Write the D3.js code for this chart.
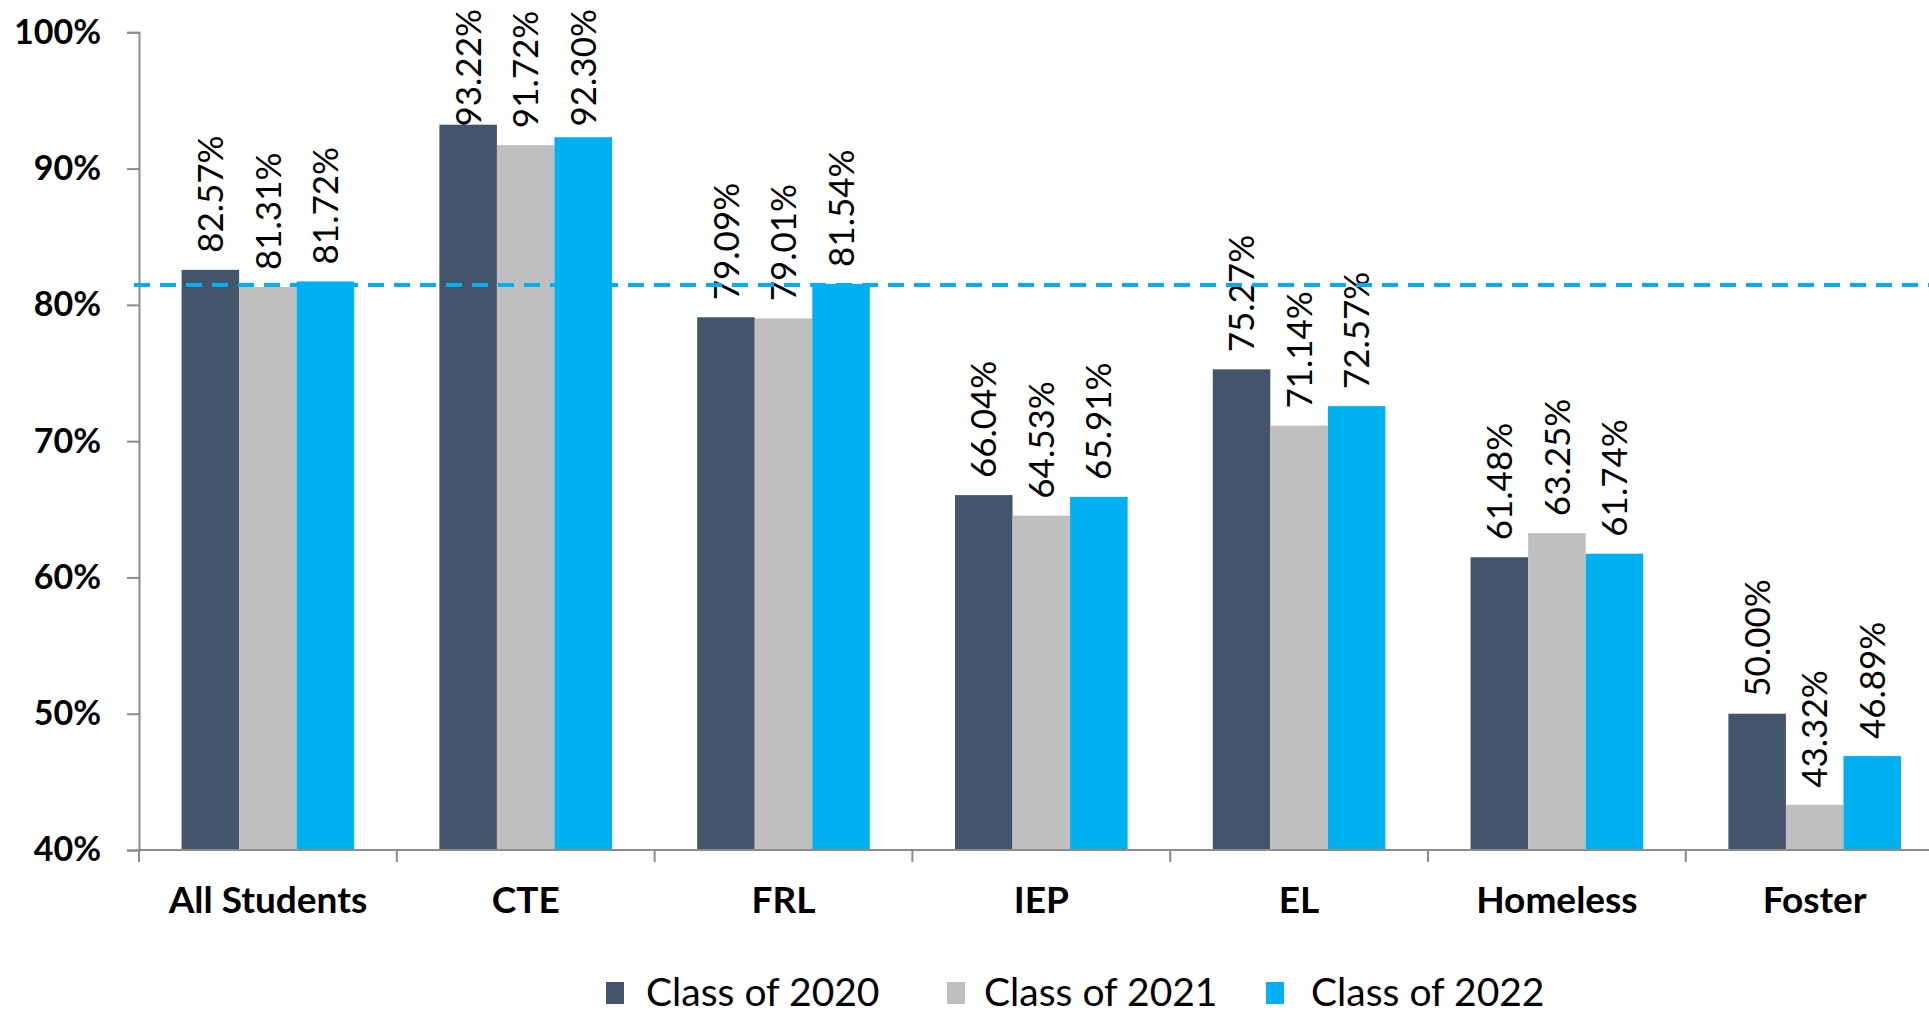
<!DOCTYPE html>
<html>
<head>
<meta charset="utf-8">
<script src="https://cdn.jsdelivr.net/npm/d3@7"></script>
<style>
  html, body { margin: 0; padding: 0; background: #fff; overflow: hidden; }
  svg { display: block; font-family: Lato, "Open Sans", sans-serif; }
</style>
</head>
<body>
<svg id="chart" width="1929" height="1016"></svg>
<script>
let categories = ["All Students", "CTE", "FRL", "IEP", "EL", "Homeless", "Foster"];
let seriesNames = ["Class of 2020", "Class of 2021", "Class of 2022"];
let class2020 = [82.57, 93.22, 79.09, 66.04, 75.27, 61.48, 50.00];
let class2021 = [81.31, 91.72, 79.01, 64.53, 71.14, 63.25, 43.32];
let class2022 = [81.72, 92.30, 81.54, 65.91, 72.57, 61.74, 46.89];
let yTicks = [40, 50, 60, 70, 80, 90, 100];
let benchmark = 81.45;

let colors = ["#44546a", "#bfbfbf", "#00b0f0"];
let seriesValues = [class2020, class2021, class2022];

let svg = d3.select("#chart");

let plot = { left: 139, top: 32.3, bottom: 850, step: 257.8 };

let y = d3.scaleLinear()
  .domain([40, 100])
  .range([plot.bottom, plot.top]);

let x0 = d3.scaleBand()
  .domain(categories)
  .range([plot.left, plot.left + plot.step * categories.length])
  .padding(0);

let x1 = d3.scaleBand()
  .domain(seriesNames)
  .range([0, x0.bandwidth()])
  .paddingInner(0)
  .paddingOuter(0.74);

let rows = categories.map((c, i) => ({
  category: c,
  values: seriesNames.map((s, j) => ({ series: s, value: seriesValues[j][i], color: colors[j] }))
}));

// bars
let groups = svg.append("g")
  .selectAll("g")
  .data(rows)
  .enter()
  .append("g")
  .attr("transform", d => `translate(${x0(d.category)}, 0)`);

groups.selectAll("rect")
  .data(d => d.values)
  .enter()
  .append("rect")
  .attr("x", d => x1(d.series))
  .attr("y", d => y(d.value))
  .attr("width", x1.bandwidth())
  .attr("height", d => y(40) - y(d.value))
  .attr("fill", d => d.color);

// y axis
let yAxis = svg.append("g")
  .attr("transform", `translate(${plot.left}, 0)`)
  .call(d3.axisLeft(y).tickValues(yTicks).tickSize(12).tickPadding(26).tickFormat(d => d + "%"));

yAxis.select(".domain").attr("stroke", "#8c8c8c").attr("stroke-width", 2);
yAxis.selectAll(".tick line").attr("stroke", "#8c8c8c").attr("stroke-width", 2);
yAxis.selectAll(".tick text")
  .attr("fill", "#000")
  .attr("font-size", 34)
  .attr("font-weight", 700)
  .attr("font-family", "Lato, sans-serif");

// x axis
let xAxis = svg.append("g")
  .attr("transform", `translate(0, ${plot.bottom})`);

xAxis.append("line")
  .attr("x1", plot.left)
  .attr("x2", 1929)
  .attr("stroke", "#8c8c8c")
  .attr("stroke-width", 2);

xAxis.selectAll(".sep")
  .data(categories)
  .enter()
  .append("line")
  .attr("class", "sep")
  .attr("x1", d => x0(d))
  .attr("x2", d => x0(d))
  .attr("y1", 0)
  .attr("y2", 12)
  .attr("stroke", "#8c8c8c")
  .attr("stroke-width", 2);

xAxis.selectAll("text")
  .data(categories)
  .enter()
  .append("text")
  .text(d => d)
  .attr("x", d => x0(d) + x0.bandwidth() / 2)
  .attr("y", 63)
  .attr("text-anchor", "middle")
  .attr("fill", "#000")
  .attr("font-size", 37)
  .attr("font-weight", 700);

// benchmark line
svg.append("line")
  .attr("x1", 134)
  .attr("x2", 1929)
  .attr("y1", y(benchmark))
  .attr("y2", y(benchmark))
  .attr("stroke", "#00b0f0")
  .attr("stroke-width", 4)
  .attr("stroke-dasharray", "16,10");

// value labels, pushed down when they would run off the top
groups.selectAll(".val")
  .data(d => d.values)
  .enter()
  .append("text")
  .attr("class", "val")
  .text(d => d.value.toFixed(2) + "%")
  .attr("font-size", 35)
  .attr("fill", "#000")
  .attr("dy", "0.36em")
  .each(function(d) {
    let len = this.getComputedTextLength();
    let start = Math.max(y(d.value) - 17, 9 + len);
    let cx = x1(d.series) + x1.bandwidth() / 2;
    d3.select(this).attr("transform", `translate(${cx}, ${start}) rotate(-90)`);
  });

// legend
let legendBox = [606, 947, 1266];
let legendText = [646, 984, 1311];
let legend = svg.append("g")
  .selectAll("g")
  .data(seriesNames)
  .enter()
  .append("g");

legend.append("rect")
  .attr("x", (d, i) => legendBox[i])
  .attr("y", 982)
  .attr("width", 18)
  .attr("height", 22)
  .attr("fill", (d, i) => colors[i]);

legend.append("text")
  .text(d => d)
  .attr("x", (d, i) => legendText[i])
  .attr("y", 992)
  .attr("dy", "0.36em")
  .attr("font-size", 39)
  .attr("fill", "#000");
</script>
</body>
</html>
